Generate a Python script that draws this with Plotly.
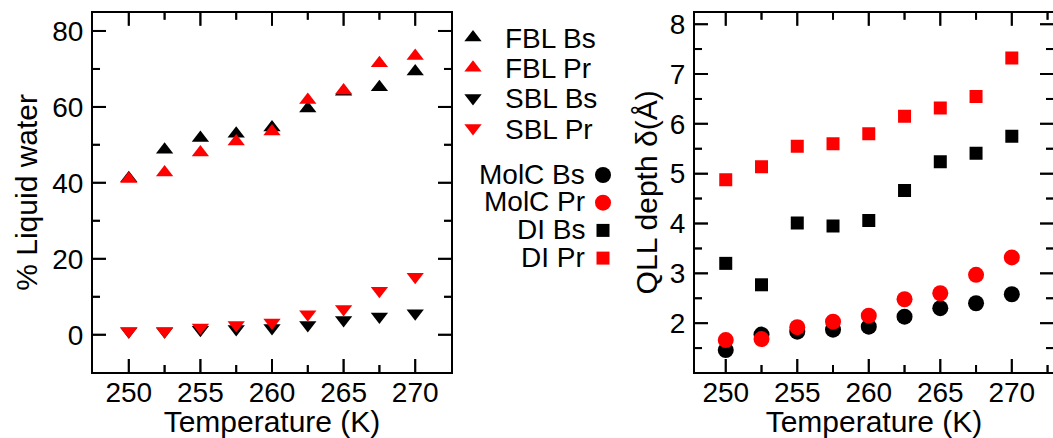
import numpy as np
import plotly.graph_objects as go

# ---------------- data ----------------
temps = [250, 252.5, 255, 257.5, 260, 262.5, 265, 267.5, 270]

fbl_bs = [41.2, 48.7, 51.8, 52.9, 54.6, 59.6, 64.0, 65.2, 69.3]
fbl_pr = [41.0, 42.7, 48.0, 50.9, 53.5, 61.8, 64.3, 71.5, 73.4]
sbl_bs = [0.9, 0.9, 1.3, 1.5, 1.8, 2.6, 3.9, 4.8, 5.7]
sbl_pr = [0.9, 0.9, 1.9, 2.6, 3.2, 5.4, 6.8, 11.6, 15.3]

molc_bs = [1.46, 1.77, 1.83, 1.87, 1.93, 2.13, 2.30, 2.40, 2.58]
molc_pr = [1.66, 1.68, 1.92, 2.03, 2.15, 2.48, 2.60, 2.97, 3.32]
di_bs = [3.20, 2.77, 4.01, 3.95, 4.06, 4.66, 5.24, 5.41, 5.75]
di_pr = [4.88, 5.14, 5.55, 5.60, 5.80, 6.15, 6.32, 6.55, 7.32]

left_names = ["FBL Bs", "FBL Pr", "SBL Bs", "SBL Pr"]
right_names = ["MolC Bs", "MolC Pr", "DI Bs", "DI Pr"]

x_ticks = [250, 255, 260, 265, 270]
left_y_ticks = [0, 20, 40, 60, 80]
right_y_ticks = [2, 3, 4, 5, 6, 7, 8]

# ---------------- style ----------------
BLACK = "#000000"
RED = "#ff0000"
FONT = "Liberation Sans, Arial, Helvetica, sans-serif"
W, H = 1053, 438
TICK_FS, TITLE_FS, LEG_FS = 28, 30, 28
MAJOR_LEN, MINOR_LEN, TICK_W = 13, 7, 2

left_series = [fbl_bs, fbl_pr, sbl_bs, sbl_pr]
left_symbols = ["triangle-up", "triangle-up", "triangle-down", "triangle-down"]
left_colors = [BLACK, RED, BLACK, RED]
left_size = 15

right_series = [molc_bs, molc_pr, di_bs, di_pr]
right_symbols = ["circle", "circle", "square", "square"]
right_colors = [BLACK, RED, BLACK, RED]
right_sizes = [16, 16, 13, 13]

# plot-area geometry (pixels) and axis ranges
PX_TOP, PX_BOT = 12.7, 372
X1_PX, X2_PX = (93, 451), (695, W)
X1_RANGE = [247.5, 272.5]
Y1_RANGE = [-9.8, 84.8]
X2_RANGE = [247.85, 272.88]
Y2_RANGE = [1.02, 8.23]

fig = go.Figure()

# ---------------- data markers ----------------
for name, ys, sym, col in zip(left_names, left_series, left_symbols, left_colors):
    fig.add_trace(go.Scatter(x=temps, y=ys, mode="markers", name=name,
                             marker=dict(symbol=sym, color=col, size=left_size,
                                         line=dict(width=0)),
                             xaxis="x", yaxis="y", showlegend=False))

for name, ys, sym, col, sz in zip(right_names, right_series, right_symbols,
                                  right_colors, right_sizes):
    fig.add_trace(go.Scatter(x=temps, y=ys, mode="markers", name=name,
                             marker=dict(symbol=sym, color=col, size=sz,
                                         line=dict(width=0)),
                             xaxis="x2", yaxis="y2", showlegend=False))

# ---------------- inward ticks on all four sides ----------------
shapes = []


def tick_values(major, step, rng):
    lo, hi = min(rng), max(rng)
    out = []
    for v in np.arange(major[0] - 4 * step, major[-1] + 4 * step + 1e-9,
                       step / 2.0):
        v = round(float(v), 6)
        if lo + 1e-6 < v < hi - 1e-6:
            k = (v - major[0]) / step
            out.append((v, MAJOR_LEN if abs(k - round(k)) < 1e-6 else MINOR_LEN))
    return out


def add_ticks(xa, ya, x_px, x_rng, y_rng, y_major, y_step):
    x_upp = (x_rng[1] - x_rng[0]) / (x_px[1] - x_px[0])   # units per pixel
    y_upp = (y_rng[1] - y_rng[0]) / (PX_BOT - PX_TOP)
    line = dict(color=BLACK, width=TICK_W)
    # vertical ticks (bottom and top) as line-ns markers
    vx, vy, vs = [], [], []
    for v, ln in tick_values(x_ticks, 5, x_rng):
        vx += [v, v]
        vy += [y_rng[0] + ln / 2 * y_upp, y_rng[1] - ln / 2 * y_upp]
        vs += [ln / 1.4, ln / 1.4]
        shapes.append(dict(type="line", xref=xa, yref=ya, x0=v, x1=v,
                           y0=y_rng[0], y1=y_rng[0] + ln * y_upp, line=line))
        shapes.append(dict(type="line", xref=xa, yref=ya, x0=v, x1=v,
                           y0=y_rng[1], y1=y_rng[1] - ln * y_upp, line=line))
    fig.add_trace(go.Scatter(x=vx, y=vy, mode="markers",
                             marker=dict(symbol="line-ns", size=vs, color=BLACK,
                                         line=dict(color=BLACK, width=TICK_W)),
                             xaxis=xa, yaxis=ya, showlegend=False,
                             hoverinfo="skip", cliponaxis=False))
    # horizontal ticks (left and right) as line-ew markers
    hx, hy, hs = [], [], []
    for v, ln in tick_values(y_major, y_step, y_rng):
        hx += [x_rng[0] + ln / 2 * x_upp, x_rng[1] - ln / 2 * x_upp]
        hy += [v, v]
        hs += [ln / 1.4, ln / 1.4]
        shapes.append(dict(type="line", xref=xa, yref=ya, y0=v, y1=v,
                           x0=x_rng[0], x1=x_rng[0] + ln * x_upp, line=line))
        shapes.append(dict(type="line", xref=xa, yref=ya, y0=v, y1=v,
                           x0=x_rng[1], x1=x_rng[1] - ln * x_upp, line=line))
    fig.add_trace(go.Scatter(x=hx, y=hy, mode="markers",
                             marker=dict(symbol="line-ew", size=hs, color=BLACK,
                                         line=dict(color=BLACK, width=TICK_W)),
                             xaxis=xa, yaxis=ya, showlegend=False,
                             hoverinfo="skip", cliponaxis=False))


add_ticks("x", "y", X1_PX, X1_RANGE, Y1_RANGE, left_y_ticks, 20)
add_ticks("x2", "y2", X2_PX, X2_RANGE, Y2_RANGE, right_y_ticks, 1)

# ---------------- custom legend (hidden pixel-space axis between panels) ----
LX0, LX1 = 453, 694
LEG1_X, LEG1_TX, LEG1_Y0, LEG1_DY = 473, 503, 37.5, 30.2
LEG2_X, LEG2_TX, LEG2_Y0, LEG2_DY = 603, 587, 175, 27.7

annotations = []
for i, (name, sym, col) in enumerate(zip(left_names, left_symbols, left_colors)):
    yy = LEG1_Y0 + LEG1_DY * i
    fig.add_trace(go.Scatter(x=[LEG1_X], y=[yy], mode="markers",
                             marker=dict(symbol=sym, color=col, size=left_size,
                                         line=dict(width=0)),
                             xaxis="x3", yaxis="y3", showlegend=False,
                             hoverinfo="skip"))
    annotations.append(dict(x=LEG1_TX, y=yy + 1, xref="x3", yref="y3",
                            text=name, showarrow=False, xanchor="left",
                            yanchor="middle",
                            font=dict(family=FONT, size=LEG_FS, color=BLACK)))

for i, (name, sym, col, sz) in enumerate(zip(right_names, right_symbols,
                                             right_colors, right_sizes)):
    yy = LEG2_Y0 + LEG2_DY * i
    fig.add_trace(go.Scatter(x=[LEG2_X], y=[yy], mode="markers",
                             marker=dict(symbol=sym, color=col, size=sz,
                                         line=dict(width=0)),
                             xaxis="x3", yaxis="y3", showlegend=False,
                             hoverinfo="skip"))
    annotations.append(dict(x=LEG2_TX, y=yy - 1, xref="x3", yref="y3",
                            text=name, showarrow=False, xanchor="right",
                            yanchor="middle",
                            font=dict(family=FONT, size=LEG_FS, color=BLACK)))

# ---------------- axes ----------------
y_dom = [(H - PX_BOT) / H, (H - PX_TOP) / H]


def xaxis_style(domain, rng, anchor):
    return dict(domain=domain, range=rng, anchor=anchor, automargin=False,
                tickmode="array", tickvals=x_ticks,
                ticktext=[str(v) for v in x_ticks],
                ticks="", ticklabelstandoff=-6,
                showline=True, linewidth=2, linecolor=BLACK, mirror=True,
                showgrid=False, zeroline=False,
                tickfont=dict(family=FONT, size=TICK_FS, color=BLACK),
                title=dict(text="Temperature (K)", standoff=14,
                           font=dict(family=FONT, size=TITLE_FS, color=BLACK)))


def yaxis_style(domain, rng, anchor, ticks, title, standoff):
    return dict(domain=domain, range=rng, anchor=anchor, automargin=False,
                tickmode="array", tickvals=ticks,
                ticktext=[str(v) for v in ticks],
                ticks="", ticklabelstandoff=2,
                showline=True, linewidth=2, linecolor=BLACK, mirror=True,
                showgrid=False, zeroline=False,
                tickfont=dict(family=FONT, size=TICK_FS, color=BLACK),
                title=dict(text=title, standoff=standoff,
                           font=dict(family=FONT, size=TITLE_FS, color=BLACK)))


fig.update_layout(
    template="none",
    width=W, height=H,
    margin=dict(l=0, r=0, t=0, b=0),
    paper_bgcolor="white", plot_bgcolor="white",
    showlegend=False,
    font=dict(family=FONT, color=BLACK),
    xaxis=xaxis_style([X1_PX[0] / W, X1_PX[1] / W], X1_RANGE, "y"),
    yaxis=yaxis_style(y_dom, Y1_RANGE, "x", left_y_ticks, "% Liquid water", 6),
    xaxis2=xaxis_style([X2_PX[0] / W, X2_PX[1] / W], X2_RANGE, "y2"),
    yaxis2=yaxis_style(y_dom, Y2_RANGE, "x2", right_y_ticks,
                       "QLL depth δ(Å)", 3),
    xaxis3=dict(domain=[LX0 / W, LX1 / W], range=[LX0, LX1], visible=False,
                anchor="y3", fixedrange=True),
    yaxis3=dict(domain=[0, 1], range=[H, 0], visible=False, anchor="x3",
                fixedrange=True),
    annotations=annotations,
    shapes=shapes,
)

fig.write_html("out.html")
